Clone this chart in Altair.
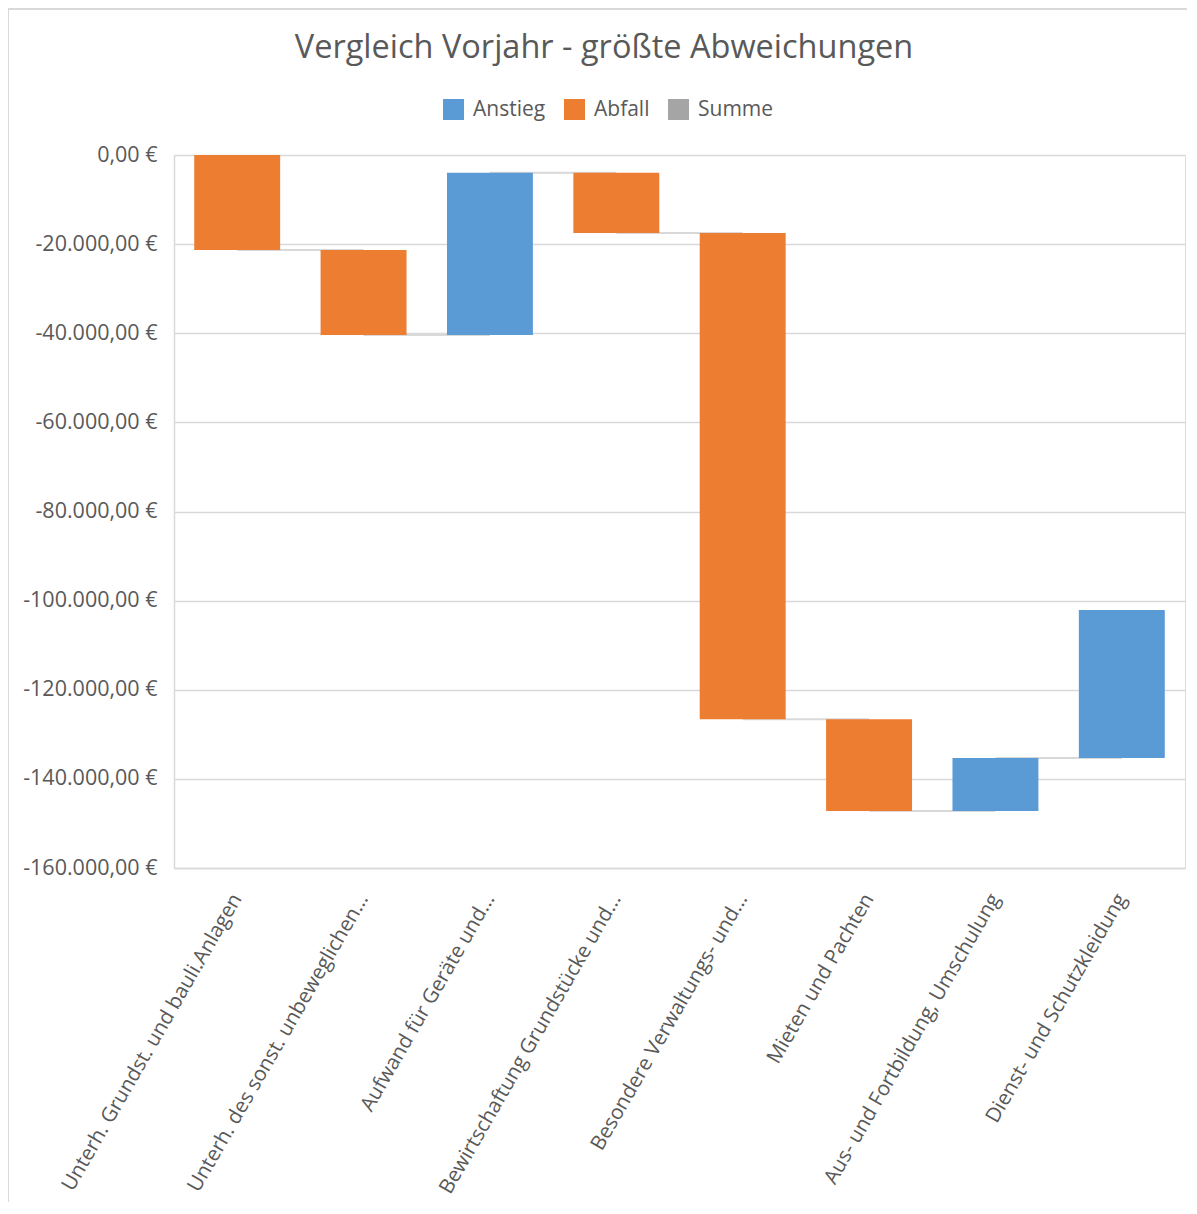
import altair as alt
import pandas as pd

categories = [
    "Unterh. Grundst. und bauli.Anlagen",
    "Unterh. des sonst. unbeweglichen...",
    "Aufwand für Geräte und...",
    "Bewirtschaftung Grundstücke und...",
    "Besondere Verwaltungs- und...",
    "Mieten und Pachten",
    "Aus- und Fortbildung,  Umschulung",
    "Dienst- und Schutzkleidung",
]
deltas = [-21300, -19100, 36400, -13500, -109100, -20600, 11900, 33200]
legend_names = ["Anstieg", "Abfall", "Summe"]
legend_colors = ["#5B9BD5", "#ED7D31", "#A5A5A5"]
y_ticks = [0, -20000, -40000, -60000, -80000, -100000, -120000, -140000, -160000]

rows = []
level = 0
for i, (c, d) in enumerate(zip(categories, deltas)):
    start = level
    level = level + d
    rows.append({
        "cat": c,
        "start": start,
        "end": level,
        "type": "Anstieg" if d > 0 else "Abfall",
        "next": categories[i + 1] if i + 1 < len(categories) else None,
    })
df = pd.DataFrame(rows)
conn = df[df["next"].notna()].copy()

font = "Open Sans"
txt = "#595959"
grid = "#d9d9d9"

xscale = alt.Scale(domain=categories, paddingInner=0.32, paddingOuter=0.16)
yscale = alt.Scale(domain=[-160000, 0], nice=False, zero=False)

label_expr = ("replace(replace(replace(replace(format(datum.value, ',.2f'), ',', '_'), '.', ','), '_', '.'), '\u2212', '-') + ' €'")

xaxis = alt.Axis(title=None, labelAngle=-60, labelFontSize=20.5, labelColor=txt,
                 labelFont=font, ticks=False, domain=True, domainColor=grid,
                 domainWidth=1.5, labelLimit=0, labelPadding=27, grid=False)
yaxis = alt.Axis(title=None, values=y_ticks, labelExpr=label_expr, labelFontSize=21.5,
                 labelColor=txt, labelFont=font, ticks=False, domain=True,
                 domainColor=grid, domainWidth=1.5, grid=True, gridColor=grid,
                 gridWidth=1.5, labelPadding=17)

border = alt.Chart(pd.DataFrame({"a": [0]})).mark_rect(
    fill=None, stroke=grid, strokeWidth=2
).encode(
    x=alt.value(-166), x2=alt.value(1100), y=alt.value(-146), y2=alt.value(1200)
)

connectors = alt.Chart(conn).mark_rule(color=grid, strokeWidth=2).encode(
    x=alt.X("cat:N", scale=xscale, axis=xaxis),
    x2="next:N",
    y=alt.Y("end:Q", scale=yscale, axis=yaxis),
)

bars = alt.Chart(df).mark_bar().encode(
    x=alt.X("cat:N", scale=xscale, axis=xaxis),
    y=alt.Y("start:Q", scale=yscale, axis=yaxis),
    y2="end:Q",
    color=alt.Color(
        "type:N",
        scale=alt.Scale(domain=legend_names, range=legend_colors),
        legend=alt.Legend(
            title=None, orient="none", direction="horizontal",
            legendX=269, legendY=-56, symbolType="square", symbolSize=440,
            symbolStrokeWidth=0, labelFontSize=21, labelColor=txt, labelFont=font,
            columnPadding=18, labelOffset=9,
        ),
    ),
)

chart = alt.layer(border, connectors, bars).properties(
    width=1011,
    height=713,
    autosize=alt.AutoSizeParams(type="none"),
    padding={"left": 166, "top": 147, "right": 2, "bottom": 334},
    title=alt.TitleParams(
        "Vergleich Vorjahr - größte Abweichungen",
        fontSize=32.5, font=font, color=txt, fontWeight="normal",
        anchor="middle", frame="bounds", offset=-56, dx=-37,
    ),
).configure_view(stroke="transparent", strokeWidth=0).configure(font=font)

chart.save("out.html", embed_options={"renderer": "svg", "actions": False})
